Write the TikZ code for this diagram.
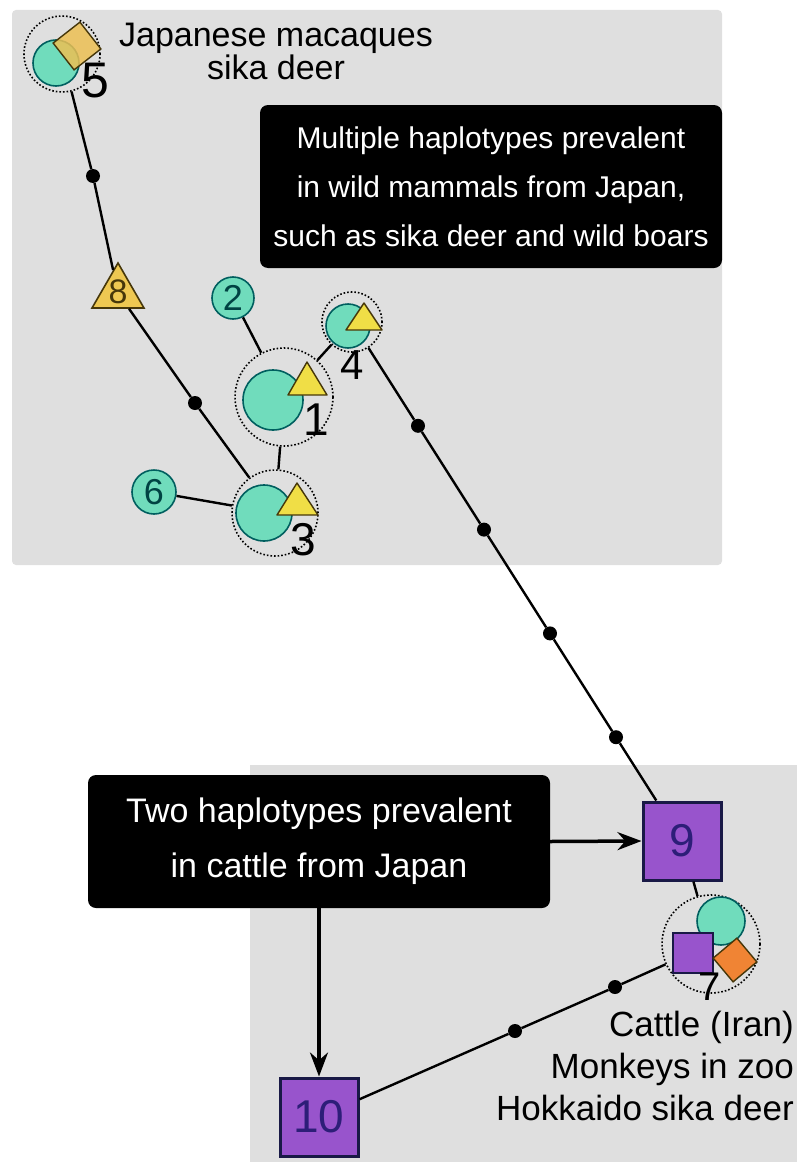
\documentclass[tikz,border=0pt]{standalone}
\usepackage{fontspec}
\setmainfont{Liberation Sans}
\usetikzlibrary{shapes.geometric,arrows.meta,calc}
\definecolor{bggray}{RGB}{223,223,223}
\definecolor{mint}{RGB}{112,220,188}
\definecolor{hapline}{RGB}{0,95,95}
\definecolor{purp}{RGB}{152,84,204}
\definecolor{sqline}{RGB}{25,25,70}
\definecolor{sqtext}{RGB}{45,30,120}
\definecolor{yel}{RGB}{240,222,70}
\definecolor{gold}{RGB}{238,200,82}
\definecolor{oran}{RGB}{240,132,52}
\definecolor{yorange}{RGB}{236,192,84}
\definecolor{triline}{RGB}{70,55,10}
\tikzset{
 hap/.style={circle, draw=hapline, fill=mint, line width=1.6pt, inner sep=0pt},
 grp/.style={circle, draw=black, dotted, line width=1.6pt, inner sep=0pt},
 dotn/.style={circle, fill=black, inner sep=0pt, minimum size=14pt},
 conn/.style={line width=2.4pt, black},
 arr/.style={line width=3.5pt, black, -{Stealth[length=24pt,width=18pt]}},
 sqP/.style={rectangle, draw=sqline, fill=purp, line width=3pt, inner sep=0pt, text=sqtext},
 bbox/.style={rectangle, rounded corners=8pt, fill=black, text=white, align=center, inner sep=0pt},
 lab/.style={inner sep=0pt, text=black},
 tri/.style={draw=triline, fill=yel, line width=1.4pt, line join=round},
 txt/.style={inner sep=0pt, text=black},
}
\begin{document}
\begin{tikzpicture}[x=1pt,y=-1pt]
\useasboundingbox (0,0) rectangle (799,1164);
% backgrounds
\fill[bggray, rounded corners=4pt] (12,10) rectangle (722,565);
\fill[bggray] (250,765) rectangle (797,1162);

% node 5
\node[grp, minimum size=76pt] (g5) at (62,54) {};
\node[hap, minimum size=46pt] (c5) at (56,63) {};
\node[draw=triline, fill=yorange, fill opacity=0.85, line width=1.4pt, rotate=38, minimum size=34pt, inner sep=0pt] (s5) at (77,46) {};
\node[lab, font=\fontsize{50}{50}\selectfont] (l5) at (95,81) {5};
\node[txt, align=center, anchor=south, font=\fontsize{34}{31}\selectfont] (t5) at (276,80) {Japanese macaques\\sika deer};

% black box 1
\node[bbox, minimum width=462pt, minimum height=163pt, font=\fontsize{30}{49}\selectfont] (b1) at (491,186.5) {Multiple haplotypes prevalent\\in wild mammals from Japan,\\such as sika deer and wild boars};

% triangle 8
\node[regular polygon, regular polygon sides=3, draw=triline, fill=gold, line width=1.6pt, minimum size=60pt, inner sep=0pt] (n8) at (118,293) {};
\node[lab, font=\fontsize{34}{34}\selectfont, text=triline] (l8) at (118,292) {8};

% node 2
\node[hap, minimum size=42pt, font=\fontsize{36}{36}\selectfont, text=hapline!70!black] (n2) at (233,298) {2};

% node 1
\node[grp, minimum size=98pt] (g1) at (284,397) {};
\node[hap, minimum size=60pt] (c1) at (273,400) {};
\filldraw[tri] (307,362) -- (327,395) -- (288,395) -- cycle;
\node[lab, font=\fontsize{46}{46}\selectfont] (l1) at (316,420) {1};

% node 4
\node[grp, minimum size=60pt] (g4) at (352,322) {};
\node[hap, minimum size=44pt] (c4) at (348,326) {};
\filldraw[tri] (364,303) -- (382,330) -- (346,330) -- cycle;
\node[lab, font=\fontsize{42}{42}\selectfont] (l4) at (352,365) {4};

% node 3
\node[grp, minimum size=86pt] (g3) at (275,513) {};
\node[hap, minimum size=56pt] (c3) at (264,513) {};
\filldraw[tri] (297,483) -- (318,515) -- (277,515) -- cycle;
\node[lab, font=\fontsize{46}{46}\selectfont] (l3) at (303,540) {3};

% node 6
\node[hap, minimum size=44pt, font=\fontsize{36}{36}\selectfont, text=hapline!70!black] (n6) at (154,492) {6};

% small dots
\node[dotn] (d1) at (93,176) {};
\node[dotn] (d2) at (195,403) {};
\node[dotn] (d3) at ($(g4)!0.2!(682,841)$) {};
\node[dotn] (d4) at ($(g4)!0.4!(682,841)$) {};
\node[dotn] (d5) at ($(g4)!0.6!(682,841)$) {};
\node[dotn] (d6) at ($(g4)!0.8!(682,841)$) {};

% node 9
\node[sqP, minimum size=78pt, font=\fontsize{46}{46}\selectfont] (n9) at (682,841) {9};

% black box 2
\node[bbox, minimum width=462pt, minimum height=133pt, font=\fontsize{34}{55}\selectfont] (b2) at (319,841.5) {Two haplotypes prevalent\\in cattle from Japan};

% node 7
\node[grp, minimum size=98pt] (g7) at (711,944) {};
\node[hap, minimum size=48pt] (c7) at (721,921) {};
\node[rectangle, draw=sqline, fill=purp, line width=2pt, minimum size=40pt, inner sep=0pt] (s7) at (693,953) {};
\node[draw=triline, fill=oran, line width=1.4pt, rotate=40, minimum size=31pt, inner sep=0pt] (o7) at (735,960) {};
\node[lab, font=\fontsize{40}{40}\selectfont] (l7) at (710,987) {7};
\node[txt, align=right, anchor=south east, font=\fontsize{35}{42}\selectfont] (t7) at (794,1121) {Cattle (Iran)\\Monkeys in zoo\\Hokkaido sika deer};

% node 10
\node[sqP, minimum size=78pt, font=\fontsize{46}{46}\selectfont] (n10) at (319,1117) {10};
\node[dotn] (d7) at (615,987) {};
\node[dotn] (d8) at (515,1031) {};

% connectors
\draw[conn] (g5) -- (d1) -- (n8) -- (d2) -- (g3);
\draw[conn] (n2) -- (g1);
\draw[conn] (g1) -- (g4);
\draw[conn] (g1) -- (g3);
\draw[conn] (n6) -- (g3);
\draw[conn] (g4) -- (d3) -- (d4) -- (d5) -- (d6) -- (n9);
\draw[conn] (n9) -- (g7);
\draw[conn] (g7) -- (d7) -- (d8) -- (n10);
\draw[arr] (b2.east) -- (n9.west);
\draw[arr] (b2.south) -- (n10.north);
\end{tikzpicture}
\end{document}
